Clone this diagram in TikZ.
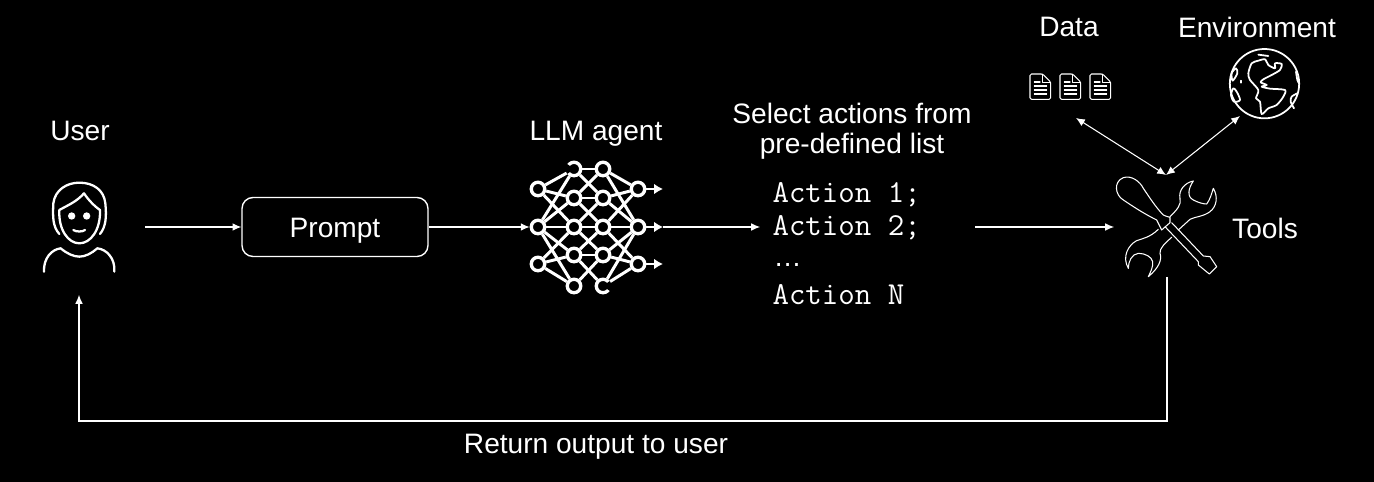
\documentclass[tikz,border=0pt]{standalone}
\usepackage{fontspec}
\setmainfont{Liberation Sans}
\usetikzlibrary{arrows.meta}

\begin{document}
\begin{tikzpicture}[->,x=0.02cm,y=-0.02cm,>={Latex[length=5pt,width=4.4pt]},font=\fontsize{16pt}{18pt}\selectfont]
    \tikzstyle{every path} = [draw=white,line width=0.6pt];
    \tikzstyle{every node} = [text=white];
    \tikzstyle{neuron} = [draw,circle,line width=1.9pt,inner sep=0pt,minimum size=2.7mm];
    \tikzstyle{netedge} = [-,line width=1.7pt];
    \tikzstyle{icon} = [-,line width=1pt,line join=round,line cap=round];
    \tikzstyle{code} = [anchor=west,inner sep=0pt,font=\fontsize{18.2pt}{18pt}\ttfamily];

    \path[use as bounding box,fill=black,draw=none] (0,0) rectangle (1374,482);

    % labels
    \node (user) at (80,131) {User};
    \node (llm) at (596,134) {LLM agent};
    \node (select) at (852,113) {Select actions from};
    \node (predef) at (852,146) {pre-defined list};
    \node (data) at (1069,27) {Data};
    \node (env) at (1257,27) {Environment};
    \node (tools) at (1265,228) {Tools};
    \node (ret) at (596,447) {Return output to user};

    \node[draw,rounded corners=2.2mm,minimum width=3.72cm,minimum height=1.18cm,line width=0.8pt] (prompt) at (335,227) {\raisebox{-0.36em}[0pt][0pt]{Prompt}};

    \node[code] (act1) at (772,195) {Action 1;};
    \node[code] (act2) at (772,228) {Action 2;};
    \node[anchor=west,inner sep=0pt] (actdots) at (773,265) {…};
    \node[code] (actn) at (772,295) {Action N};

    % network
    \foreach \r/\y in {1/189,2/227,3/264} {
        \node[neuron] (a\r) at (538,\y) {};
        \node[neuron] (d\r) at (638,\y) {};
    }
    \foreach \r/\y in {1/169,2/198,3/227,4/255,5/286} {
        \node[neuron] (b\r) at (574,\y) {};
        \node[neuron] (c\r) at (603,\y) {};
    }
    \fill[black,draw=none] (b1.center) -- +(-11,-8) -- +(-11,8) -- cycle;
    \fill[black,draw=none] (c5.center) -- +(11,-8) -- +(11,8) -- cycle;
    \foreach \i/\j in {1/1,1/2,1/3,2/1,2/2,2/3,2/4,2/5,3/3,3/4,3/5} {
        \draw[netedge] (a\i) -- (b\j);
        \draw[netedge] (c\j) -- (d\i);
    }
    \foreach \i/\j in {1/1,1/2,2/1,2/2,2/3,3/2,3/3,3/4,4/3,4/4,4/5,5/4} {
        \draw[netedge] (b\i) -- (c\j);
    }
    \coordinate (out1) at (663,189);
    \coordinate (out2) at (663,227);
    \coordinate (out3) at (663,264);
    \foreach \r in {1,2,3} {
        \draw[line width=1.6pt,-{Latex[length=5pt,width=6pt]}] (d\r) -- (out\r);
    }

    % user
    \begin{scope}[shift={(20,160)},scale=1/3]
        \draw[icon,line width=1.3pt] (118,222) .. controls (98,200) and (98,170) .. (100,130) .. controls (105,90) and (140,68) .. (178,68) .. controls (220,68) and (252,90) .. (256,130) .. controls (260,170) and (258,200) .. (240,222);
        \draw[icon,line width=1.3pt] (118,150) .. controls (115,210) and (145,250) .. (178,250) .. controls (212,250) and (242,210) .. (240,150) .. controls (225,140) and (205,120) .. (192,100) .. controls (170,125) and (145,135) .. (118,150);
        \draw[icon,line width=1.3pt] (160,210) .. controls (168,216) and (188,216) .. (195,210);
        \fill[white,draw=none] (155,168) circle (11) (200,168) circle (11);
        \draw[icon,line width=1.3pt] (72,335) .. controls (70,295) and (95,268) .. (122,265) .. controls (140,280) and (160,290) .. (178,290) .. controls (196,290) and (215,280) .. (232,265) .. controls (260,268) and (286,295) .. (283,335);
    \end{scope}

    % documents
    \foreach \dx in {0,30,60} {
        \begin{scope}[shift={(1000+\dx,0)},scale=1/3]
            \draw[icon,line width=0.6pt,rounded corners=0.3mm] (90,222) -- (128,222) -- (152,246) -- (152,298) -- (90,298) -- cycle;
            \draw[icon,line width=0.4pt] (128,222) -- (128,246) -- (152,246);
            \draw[icon,line width=0.6pt] (103,246) -- (120,246) (103,258) -- (140,258) (103,270) -- (140,270) (103,282) -- (140,282);
        \end{scope}
    }

    % globe
    \begin{scope}[shift={(1220,40)},scale=1/3]
        \draw[icon] (133.5,131) circle (104);
        \draw[icon] plot[smooth cycle,tension=0.45] coordinates {(95,70) (115,62) (135,58) (145,75) (165,85) (165,70) (185,72) (180,90) (155,105) (130,118) (122,127) (140,135) (125,140) (150,146) (195,150) (190,170) (170,195) (145,205) (125,222) (120,185) (108,175) (115,150) (90,120) (85,100)};
        \draw[icon] plot[smooth cycle,tension=0.5] coordinates {(35,100) (48,85) (52,100) (38,122)};
        \draw[icon] plot[smooth cycle,tension=0.5] coordinates {(40,145) (50,155) (60,180) (42,185) (33,165)};
        \draw[icon] plot[smooth] coordinates {(228,95) (232,120) (237,130)};
        \draw[icon] plot[smooth] coordinates {(232,160) (215,170) (212,185) (222,205)};
        \draw[icon] (62,122) -- (62,128);
        \draw[icon] (115,44) -- (145,48);
    \end{scope}

    % tools
    \begin{scope}[shift={(1000,0)},scale=1/3]
        \draw[icon,line width=0.6pt] (470,660) .. controls (430,640) and (400,620) .. (370,600) .. controls (345,585) and (340,545) .. (370,533) .. controls (395,525) and (420,545) .. (430,565) .. controls (450,595) and (470,625) .. (490,645) .. controls (500,650) and (505,650) .. (510,652) -- (510,668) -- (485,690) -- cycle;
        \draw[icon,line width=0.6pt] (495,680) -- (595,785) (515,668) -- (610,768) -- (630,770) -- (650,800) -- (628,822) -- (595,795) -- (595,785);
        \draw[icon,line width=0.6pt] (510,650) .. controls (530,630) and (545,615) .. (540,595) .. controls (535,570) and (555,548) .. (580,543) .. controls (565,565) and (560,590) .. (580,600) .. controls (595,608) and (610,612) .. (620,612) .. controls (630,600) and (635,580) .. (640,565) .. controls (655,590) and (650,620) .. (630,635) .. controls (610,650) and (585,650) .. (570,658) -- (535,690);
        \draw[icon,line width=0.6pt] (475,688) .. controls (450,712) and (430,715) .. (410,722) .. controls (385,735) and (365,770) .. (385,805) .. controls (385,785) and (395,762) .. (415,760) .. controls (435,760) and (455,770) .. (458,785) .. controls (460,800) and (452,815) .. (445,830) .. controls (475,805) and (487,780) .. (480,760) .. controls (478,745) and (495,730) .. (515,712);
    \end{scope}

    % connector ends
    \coordinate (userout) at (145,227);
    \coordinate (userin) at (79,295);
    \coordinate (actin) at (760,227);
    \coordinate (actout) at (975,227);
    \coordinate (toolin) at (1114,227);
    \coordinate (toolout) at (1167,277);
    \coordinate (tooltop) at (1166,175);
    \coordinate (dataend) at (1076,118);
    \coordinate (envend) at (1240,116);
    \coordinate (retcorner) at (79,421);

    \draw[->] (userout) -- (prompt);
    \draw[->] (prompt) -- (a2);
    \draw[->] (out2) -- (actin);
    \draw[->] (actout) -- (toolin);
    \draw[<->] (dataend) -- (tooltop);
    \draw[<->] (envend) -- (tooltop);
    \draw[->] (toolout) |- (retcorner) -- (userin);

\end{tikzpicture}
\end{document}
